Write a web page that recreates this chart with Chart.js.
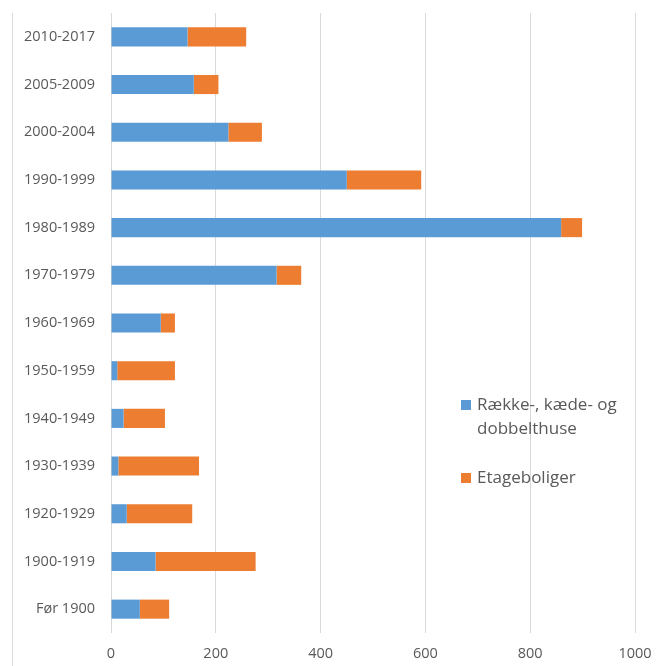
<!DOCTYPE html>
<html>
<head>
<meta charset="utf-8">
<script src="https://cdn.jsdelivr.net/npm/chart.js@4/dist/chart.umd.min.js"></script>
<style>
  html, body { margin: 0; padding: 0; background: #fff; }
  #wrap { width: 667px; height: 666px; position: relative; }
</style>
</head>
<body>
<div id="wrap"><canvas id="chart"></canvas></div>
<script>
// periods, top to bottom as in the picture
const periods = [
  "2010-2017", "2005-2009", "2000-2004", "1990-1999", "1980-1989",
  "1970-1979", "1960-1969", "1950-1959", "1940-1949", "1930-1939",
  "1920-1929", "1900-1919", "Før 1900"
];
const raekkehuse = [146, 158, 224, 450, 859, 316, 95, 12, 24, 14, 30, 85, 55];
const etageboliger = [112, 47, 64, 142, 40, 47, 27, 110, 79, 154, 125, 191, 56];
const seriesNames = [["Række-, kæde- og", "dobbelthuse"], ["Etageboliger"]];
const xTicks = [0, 200, 400, 600, 800, 1000];

const gray = "#595959";
const gridColor = "#d9d9d9";
const font = "'Open Sans', sans-serif";

// legend drawn inside the plot, like the Excel original
const sideLegend = {
  id: "sideLegend",
  beforeDraw(chart) {
    const ctx = chart.ctx;
    const a = chart.chartArea;
    ctx.save();
    ctx.strokeStyle = gridColor;
    ctx.lineWidth = 1;
    ctx.beginPath();
    ctx.moveTo(12.5, a.top);
    ctx.lineTo(12.5, chart.height);
    ctx.stroke();
    ctx.restore();
  },
  afterDraw(chart) {
    const ctx = chart.ctx;
    ctx.save();
    ctx.font = "17px " + font;
    ctx.textBaseline = "middle";
    let y = 405;
    chart.data.datasets.forEach((ds, i) => {
      ctx.fillStyle = ds.backgroundColor;
      ctx.fillRect(461, y - 5, 10, 10);
      ctx.fillStyle = gray;
      seriesNames[i].forEach((line, j) => {
        ctx.fillText(line, 477, y + j * 24);
      });
      y += 73;
    });
    ctx.restore();
  }
};

new Chart(document.getElementById("chart"), {
  type: "bar",
  data: {
    labels: periods,
    datasets: [
      {
        label: seriesNames[0].join(" "),
        data: raekkehuse,
        backgroundColor: "#5b9bd5",
        categoryPercentage: 0.4,
        barPercentage: 1.0
      },
      {
        label: seriesNames[1].join(" "),
        data: etageboliger,
        backgroundColor: "#ed7d31",
        categoryPercentage: 0.4,
        barPercentage: 1.0
      }
    ]
  },
  options: {
    indexAxis: "y",
    responsive: true,
    maintainAspectRatio: false,
    animation: false,
    layout: { padding: { top: 13, right: 32, left: 0, bottom: 0 } },
    scales: {
      x: {
        stacked: true,
        min: 0,
        max: 1000,
        afterBuildTicks: (axis) => { axis.ticks = xTicks.map(v => ({ value: v })); },
        afterFit: (axis) => { axis.height = 33; },
        grid: { color: gridColor, drawTicks: false },
        border: { display: false },
        ticks: {
          color: gray,
          font: { family: font, size: 14.5 },
          padding: 12,
          callback: (v) => String(v)
        }
      },
      y: {
        stacked: true,
        afterFit: (axis) => {
          axis.width = 111;
          axis.paddingTop = 0;
          axis.paddingBottom = 0;
        },
        grid: { display: false, drawTicks: false },
        border: { display: false },
        ticks: { color: gray, font: { family: font, size: 14.5 }, padding: 16 }
      }
    },
    plugins: {
      legend: { display: false },
      tooltip: { enabled: false }
    }
  },
  plugins: [sideLegend]
});
</script>
</body>
</html>
